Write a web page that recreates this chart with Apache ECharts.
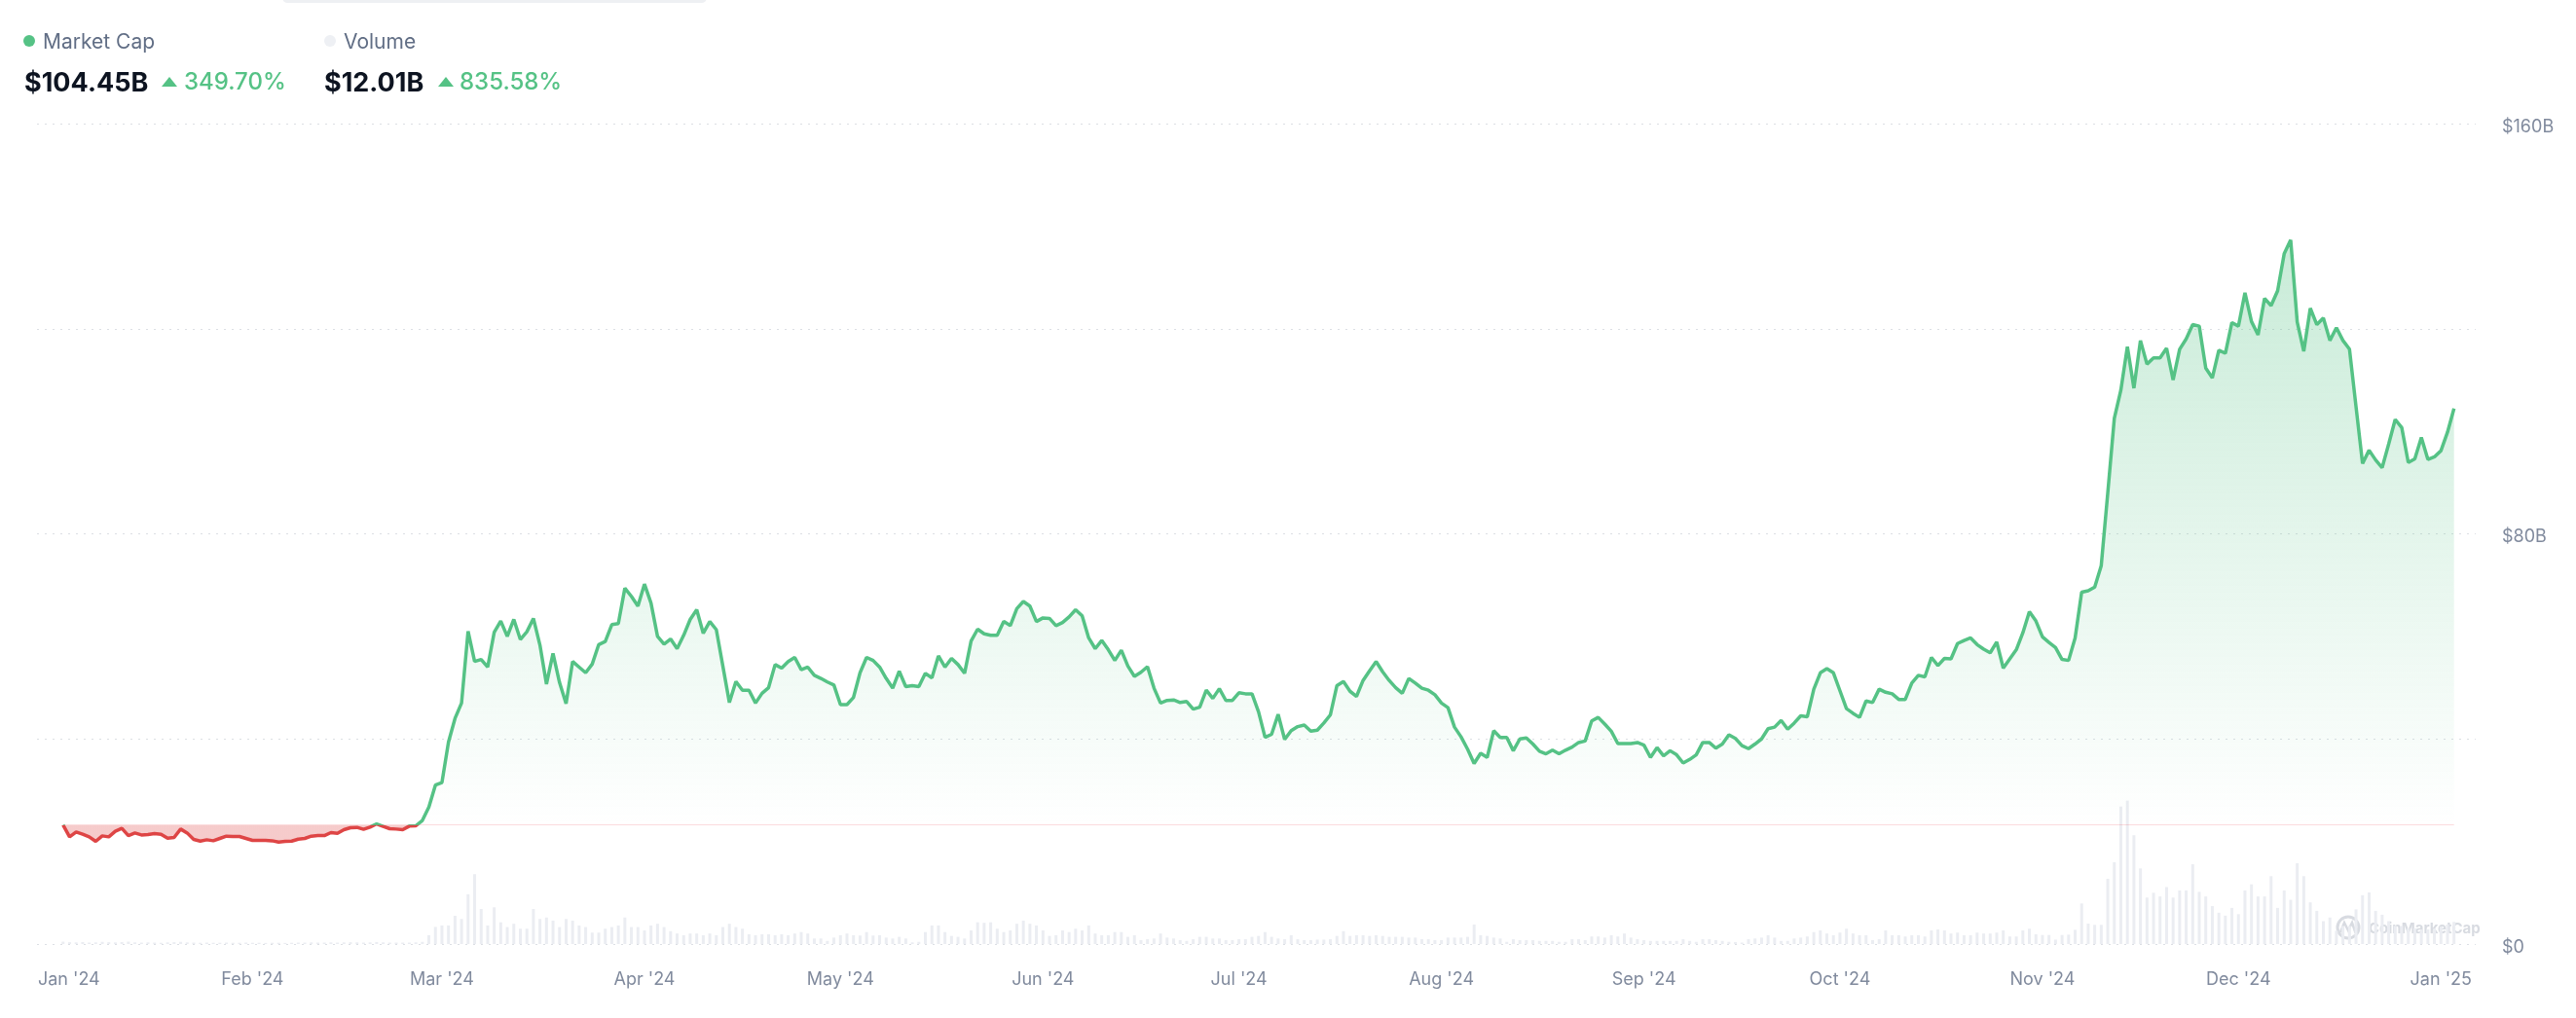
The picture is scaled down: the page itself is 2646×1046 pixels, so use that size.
<!DOCTYPE html>
<html>
<head>
<meta charset="utf-8">
<script src="https://cdn.jsdelivr.net/npm/echarts@6/dist/echarts.min.js"></script>
<style>
html,body{margin:0;padding:0;background:#fff;width:2646px;height:1046px;overflow:hidden;font-family:Inter,"Noto Sans",sans-serif;}
#chart{position:absolute;left:0;top:0;width:2646px;height:1046px;}
.h{position:absolute;white-space:nowrap;line-height:1;}
</style>
</head>
<body>
<div id="chart"></div>
<div id="header"></div>
<script>
// ---- data (daily, starting 2024-01-03) ----
const startDate = [2024, 0, 3];
const marketCap = [
23.2266,20.90,21.85,21.41,20.90,20.02,21.09,20.90,21.98,22.55,
21.15,21.66,21.28,21.35,21.54,21.41,20.65,20.78,22.42,21.66,
20.40,20.08,20.33,20.14,20.59,21.03,20.97,20.97,20.59,20.21,
20.21,20.21,20.14,19.89,20.02,20.08,20.46,20.59,21.03,21.15,
21.15,21.73,21.60,22.30,22.68,22.74,22.36,22.80,23.44,22.93,
22.49,22.42,22.30,22.99,23.06,24.1,26.7,31.0,31.5,39.4,
44.0,47.0,61.0,55.1,55.5,54.0,60.8,63.0,60.0,63.3,
59.4,60.9,63.5,58.3,50.7,56.7,51.0,46.9,55.1,54.0,
52.9,54.6,58.4,59.0,62.3,62.5,69.4,67.8,65.9,70.2,
66.5,60.0,58.5,59.5,57.6,60.2,63.3,65.2,60.6,62.9,
61.3,54.2,47.1,51.2,49.5,49.5,47.0,48.9,50.0,54.5,
53.8,55.1,55.9,53.5,54.0,52.4,51.8,51.1,50.5,46.7,
46.7,48.1,52.9,55.9,55.3,54.0,51.8,49.9,53.2,50.2,
50.4,50.2,52.8,51.9,56.2,54.0,55.7,54.5,52.8,59.1,
61.4,60.5,60.2,60.2,62.9,62.1,65.4,66.8,65.9,62.9,
63.6,63.5,62.1,62.7,63.8,65.2,64.0,59.7,57.6,59.2,
57.4,55.3,57.3,54.2,52.2,53.0,54.1,49.9,47.0,47.5,
47.6,47.1,47.3,45.8,46.2,49.5,47.9,49.8,47.5,47.5,
49.0,48.8,48.8,45.3,40.3,40.9,44.8,39.9,41.6,42.4,
42.7,41.5,41.7,43.1,44.7,50.4,51.2,49.3,48.3,51.4,
53.3,55.1,53.1,51.4,50.0,48.9,51.8,50.9,49.9,49.5,
48.6,47.0,46.1,42.3,40.4,38.0,35.2,37.2,36.4,41.6,
40.3,40.3,37.7,40.0,40.2,39.0,37.6,37.1,37.8,37.1,
37.8,38.4,39.3,39.6,43.5,44.2,42.9,41.5,39.1,39.1,
39.1,39.3,38.8,36.4,38.3,36.7,37.7,36.9,35.3,36.0,
36.9,39.3,39.3,38.2,39.0,40.8,40.1,38.7,38.1,39.0,
40.0,42.0,42.3,43.6,41.9,43.1,44.5,44.3,49.7,52.9,
53.7,52.9,49.4,45.9,45.0,44.2,47.4,47.1,49.7,49.1,
48.8,47.7,47.7,50.9,52.4,52.1,55.9,54.3,55.7,55.6,
58.6,59.2,59.7,58.4,57.5,56.8,58.9,53.8,55.6,57.4,
60.7,64.8,63.0,59.9,58.8,57.8,55.5,55.3,59.7,68.6,
68.9,69.6,73.8,88.0,102.5,108.0,116.5,108.4,117.7,113.1,
114.3,114.3,116.2,110.0,116.0,118.0,120.8,120.5,112.3,110.4,
115.8,115.2,121.2,120.5,127.0,121.4,118.8,125.9,124.5,127.4,
134.6,137.3,121.3,115.6,124.0,120.8,122.1,117.7,120.2,117.7,
116.0,104.8,93.7,96.3,94.4,92.9,97.5,102.3,100.7,93.9,
94.6,98.8,94.5,95.0,96.2,99.8,104.45
];
const volume = [
1.2837,1.0,0.9,1.1,0.8,0.9,1.2,1.0,0.9,1.1,
1.3,0.9,0.8,0.9,0.8,0.7,0.9,1.0,1.2,0.9,
0.8,0.7,0.8,0.7,0.7,0.8,0.7,0.7,0.8,0.7,
0.7,0.6,0.7,0.7,0.6,0.7,0.8,0.8,0.9,0.8,
0.8,0.9,0.8,0.9,1.0,0.9,0.8,0.9,1.1,0.9,
0.8,0.8,0.8,0.8,0.9,1.2,4.8,9.3,10.1,10.1,
15.3,13.6,27.0,37.9,19.0,10.1,19.9,11.8,9.2,11.0,
8.3,8.3,19.0,13.6,14.4,12.7,9.2,13.6,12.7,10.1,
9.2,6.2,6.2,8.3,9.2,10.1,14.4,9.2,9.2,7.4,
10.1,11.0,9.2,7.0,5.7,4.8,5.7,5.7,4.8,5.7,
4.8,9.2,11.0,9.2,8.3,5.3,4.8,5.3,5.3,4.8,
5.3,4.8,5.7,6.5,5.7,3.0,3.0,1.7,3.5,4.8,
5.7,4.8,4.6,6.5,4.6,4.8,3.5,3.0,3.9,3.0,
0.9,1.2,6.5,10.1,10.1,6.5,4.4,3.9,3.0,7.4,
11.8,11.5,11.8,8.3,6.5,7.4,11.0,12.7,11.0,10.1,
7.4,4.4,4.8,7.4,6.5,8.3,7.4,10.1,5.7,4.8,
4.8,6.5,6.5,3.9,4.8,2.1,2.6,3.0,5.7,3.5,
3.0,2.1,1.7,2.6,3.9,3.9,3.0,3.0,2.1,2.1,
2.6,2.6,3.9,4.4,6.5,3.9,3.0,2.6,4.8,2.6,
2.1,2.1,2.4,2.4,2.6,4.4,7.0,4.4,4.8,4.8,
4.4,4.8,4.4,3.9,3.9,3.9,3.5,3.5,2.6,2.6,
2.1,2.1,3.5,3.5,3.5,3.9,10.6,4.8,4.4,3.5,
3.0,1.2,2.6,2.1,2.1,2.1,1.7,1.7,1.7,1.2,
1.2,2.6,2.6,2.1,4.1,4.1,3.5,4.8,4.1,5.7,
3.5,2.6,2.1,1.7,1.7,1.7,1.7,1.7,2.6,1.7,
1.2,2.6,2.6,2.1,1.7,1.2,1.1,0.8,2.6,3.0,
3.5,4.8,3.5,1.7,1.7,3.0,3.5,4.1,6.5,7.4,
5.7,4.8,6.2,8.3,5.7,4.8,4.8,2.1,2.6,7.4,
4.8,4.8,4.1,4.8,4.8,4.1,7.4,7.9,7.4,5.7,
6.2,4.8,4.8,6.2,5.7,5.7,6.2,7.4,4.1,4.1,
7.4,8.3,5.3,4.9,4.9,2.4,4.9,5.1,7.7,22.0,
11.1,10.4,10.4,35.4,44.4,74.6,77.8,59.0,41.0,25.2,
27.8,25.8,30.9,25.2,29.1,29.1,43.3,28.3,25.8,20.6,
17.0,15.4,19.6,16.2,29.1,32.4,25.8,25.8,36.8,19.6,
29.1,24.0,43.8,36.8,22.6,18.0,12.4,14.4,7.2,9.8,
9.8,18.8,26.5,28.0,18.0,15.9,12.4,9.8,9.8,8.5,
8.5,7.9,7.9,8.5,9.5,10.6,12.01
];
const monthNames = ['Jan','Feb','Mar','Apr','May','Jun','Jul','Aug','Sep','Oct','Nov','Dec'];
const xTickMonths = [[2024,0],[2024,1],[2024,2],[2024,3],[2024,4],[2024,5],[2024,6],[2024,7],[2024,8],[2024,9],[2024,10],[2024,11],[2025,0]];
const yTickLabels = ['$0','','$80B','','$160B'];
const legendNames = ['Market Cap','Volume'];

// ---- styles ----
const GREEN = '#55C285';
const RED = '#DE4545';
const DAY = 86400000;
const t0 = Date.UTC(startDate[0], startDate[1], startDate[2]);
const dates = marketCap.map((_, i) => t0 + i * DAY);
const mcData = marketCap.map((v, i) => [dates[i], v]);
const volData = volume.map((v, i) => [dates[i], v]);
const base = marketCap[0];
const tFirst = dates[0], tLast = dates[dates.length - 1];
const monthTicks = xTickMonths.map(([y, m]) => Date.UTC(y, m, 1));

const vMax = Math.max(...marketCap);
const vMin = Math.min(Math.min(...marketCap), base);
const off = (vMax - base) / (vMax - vMin);

// ---- header ----
function fmtB(v){ return '$' + v.toFixed(2) + 'B'; }
function pct(a, b){ return ((b / a - 1) * 100).toFixed(2) + '%'; }
const hdr = document.getElementById('header');
hdr.innerHTML =
 '<div class="h" style="left:290px;top:-8px;width:436px;height:11px;border-radius:8px;background:#EEF0F3"></div>' +
 '<div class="h" style="left:24px;top:36px;width:12px;height:12px;border-radius:50%;background:' + GREEN + '"></div>' +
 '<div class="h" style="left:44px;top:32px;font-size:21px;color:#616E85">' + legendNames[0] + '</div>' +
 '<div class="h" style="left:25px;top:71px;font-size:27px;font-weight:700;color:#0D1421">' + fmtB(marketCap[marketCap.length-1]) + '</div>' +
 '<div class="h" style="left:166px;top:79px;width:0;height:0;border-left:8px solid transparent;border-right:8px solid transparent;border-bottom:10px solid ' + GREEN + '"></div>' +
 '<div class="h" style="left:189px;top:72px;font-size:24px;font-weight:500;color:' + GREEN + '">' + pct(marketCap[0], marketCap[marketCap.length-1]) + '</div>' +
 '<div class="h" style="left:333px;top:36px;width:12px;height:12px;border-radius:50%;background:#EEF0F4"></div>' +
 '<div class="h" style="left:353px;top:32px;font-size:21px;color:#616E85">' + legendNames[1] + '</div>' +
 '<div class="h" style="left:333px;top:71px;font-size:27px;font-weight:700;color:#0D1421">' + fmtB(volume[volume.length-1]) + '</div>' +
 '<div class="h" style="left:450px;top:79px;width:0;height:0;border-left:8px solid transparent;border-right:8px solid transparent;border-bottom:10px solid ' + GREEN + '"></div>' +
 '<div class="h" style="left:472px;top:72px;font-size:24px;font-weight:500;color:' + GREEN + '">' + pct(volume[0], volume[volume.length-1]) + '</div>';

// ---- chart ----
const chart = echarts.init(document.getElementById('chart'), null, {renderer: 'canvas'});
const option = {
  useUTC: true,
  animation: false,
  backgroundColor: 'transparent',
  grid: {left: 38, right: 103, top: 127, bottom: 76, containLabel: false},
  xAxis: {
    type: 'time',
    min: t0 - 3.766 * DAY,
    max: t0 + 369.1 * DAY,
    splitNumber: 12,
    axisLine: {show: false},
    axisTick: {show: false},
    splitLine: {show: false},
    axisLabel: {
      margin: 28,
      fontSize: 18,
      fontFamily: 'Inter',
      color: '#808A9D',
      hideOverlap: false,
      formatter: function (value) {
        const d = new Date(value);
        if (d.getUTCDate() !== 1 || d.getUTCHours() !== 0) return '';
        const s = monthNames[d.getUTCMonth()] + " '" + String(d.getUTCFullYear()).slice(2);
        return value === monthTicks[0] ? '{first|' + s + '}' : s;
      },
      rich: {first: {padding: [0, 0, 0, 39], fontSize: 18, fontFamily: 'Inter', color: '#808A9D'}}
    }
  },
  yAxis: [{
    type: 'value',
    position: 'right',
    min: 0, max: 160, interval: 40,
    axisLine: {show: false},
    axisTick: {show: false},
    splitLine: {show: true, lineStyle: {color: '#DCDFE4', width: 1, type: [2, 6]}},
    axisLabel: {
      margin: 27, fontSize: 18, fontFamily: 'Inter', color: '#808A9D',
      formatter: function (v) {
        const s = yTickLabels[Math.round(v / 40)] || '';
        return s ? '{y|' + s + '}' : '';
      },
      rich: {y: {padding: [7, 0, 0, 0], fontSize: 18, fontFamily: 'Inter', color: '#808A9D'}}
    }
  }, {
    type: 'value', show: false, min: 0, max: 445,
    splitLine: {show: false}
  }],
  visualMap: {
    show: false, type: 'piecewise', seriesIndex: 1, dimension: 1,
    pieces: [{gte: 0, lt: base, color: RED}, {gte: base, lte: 1000, color: GREEN}],
    outOfRange: {color: GREEN}
  },
  series: [{
    name: legendNames[1],
    type: 'bar',
    xAxisIndex: 0, yAxisIndex: 1,
    data: volData,
    barWidth: 3,
    itemStyle: {color: '#EBEDF2'},
    silent: true,
    z: 1
  }, {
    name: legendNames[0],
    type: 'line',
    xAxisIndex: 0, yAxisIndex: 0,
    data: mcData,
    showSymbol: false,
    symbol: 'none',
    lineStyle: {width: 3.5},
    areaStyle: {
      origin: base,
      opacity: 1,
      color: {
        type: 'linear', x: 0, y: 0, x2: 0, y2: 1,
        colorStops: [
          {offset: 0, color: 'rgba(85,194,133,0.32)'},
          {offset: off, color: 'rgba(85,194,133,0.0)'},
          {offset: off, color: 'rgba(222,69,69,0.28)'},
          {offset: 1, color: 'rgba(222,69,69,0.28)'}
        ]
      }
    },
    markLine: {
      silent: true, symbol: ['none', 'none'], animation: false,
      label: {show: false},
      lineStyle: {color: 'rgba(234,57,67,0.18)', width: 1, type: 'solid'},
      data: [[{coord: [tFirst, base]}, {coord: [tLast, base]}]]
    },
    z: 3
  }],
  graphic: [{
    type: 'group', silent: true,
    children: [
      {type: 'circle', shape: {cx: 2412, cy: 953, r: 11}, style: {fill: 'none', stroke: '#D8DBE1', lineWidth: 3}},
      {type: 'polyline', shape: {points: [[2404, 958], [2408, 948], [2412, 956], [2416, 948], [2419, 957], [2422, 954]]}, style: {fill: 'none', stroke: '#D8DBE1', lineWidth: 2.5}},
      {type: 'text', x: 2433, y: 954, style: {text: 'CoinMarketCap', fill: '#D8DBE1', font: 'bold 15px Inter', verticalAlign: 'middle'}}
    ]
  }]
};
chart.setOption(option);
</script>
</body>
</html>
